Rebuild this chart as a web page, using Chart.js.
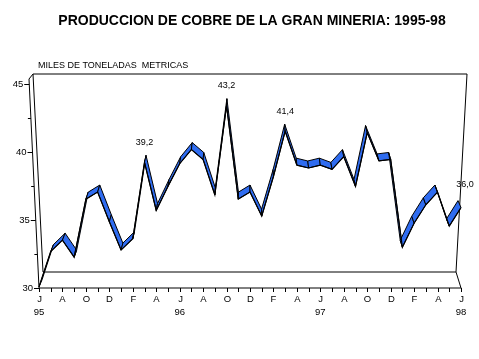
<!DOCTYPE html>
<html>
<head>
<meta charset="utf-8">
<script src="https://cdn.jsdelivr.net/npm/chart.js@4.4.0/dist/chart.umd.min.js"></script>
<style>
  body{margin:0;background:#fff;}
  canvas{display:block;}
</style>
</head>
<body>
<canvas id="chart" width="479" height="359"></canvas>
<script>
// ================== DATA ==================
// months Jun 1995 .. Jun 1998 (spanish initials)
const months = ["J","J","A","S","O","N","D","E","F","M","A","M",
                "J","J","A","S","O","N","D","E","F","M","A","M",
                "J","J","A","S","O","N","D","E","F","M","A","M","J"];
const yearIdx = [0, 12, 24, 36];
const yearText = ["95", "96", "97", "98"];

// miles de toneladas metricas
const production = [30.4, 32.9, 33.7, 32.5, 36.6, 37.1, 35.0, 33.0, 33.8, 39.2, 35.8, 37.5,
                    39.1, 40.1, 39.4, 36.9, 43.2, 36.6, 37.1, 35.4, 38.2, 41.4, 39.0, 38.8,
                    39.0, 38.7, 39.6, 37.5, 41.3, 39.3, 39.4, 33.2, 34.9, 36.2, 37.1, 34.7, 36.0];

// points with a value written above them
const labelIdx = [9, 16, 21, 36];

const yTicks = [30, 35, 40, 45];
const yMinor = [32.5, 37.5, 42.5];

const TITLE = "PRODUCCION DE COBRE DE LA GRAN MINERIA: 1995-98";
const UNITS = "MILES DE TONELADAS  METRICAS";
const FONT = "'Liberation Sans', Arial, sans-serif";

// ================== 3D FRAME + RIBBON ==================
function line(ctx, x1, y1, x2, y2){
  ctx.beginPath(); ctx.moveTo(x1, y1); ctx.lineTo(x2, y2); ctx.stroke();
}

const frame3d = {
  id: "frame3d",
  beforeDatasetsDraw(chart){
    const {ctx, chartArea: a, scales} = chart;
    ctx.save();
    ctx.strokeStyle = "#000";
    ctx.lineWidth = 1;

    // back wall + floor
    const bl = a.left + 4, br = a.right - 5, bb = a.bottom - 16, bt = a.top - 1;
    line(ctx, a.left - 6, bt, a.right + 6, bt);
    line(ctx, a.right + 6, bt, br, bb);
    line(ctx, bl, bb, br, bb);
    line(ctx, a.left - 6, bt, bl, bb);
    line(ctx, a.left - 10, a.top + 4, a.left - 6, bt);
    line(ctx, a.left - 10, a.top + 4, a.left, a.bottom);
    line(ctx, br, bb, a.right, a.bottom);
    line(ctx, a.left, a.bottom, a.right, a.bottom);

    // left axis ticks & labels (slanted front edge)
    const edgeX = y => (a.left - 10) + 10 * (y - (a.top + 4)) / (a.bottom - (a.top + 4));
    const yl = scales.yl;
    ctx.fillStyle = "#000";
    ctx.font = "9.5px " + FONT;
    ctx.textAlign = "right";
    ctx.textBaseline = "middle";
    yTicks.forEach(v => {
      const y = Math.round(yl.getPixelForValue(v)) + 0.5;
      const x = edgeX(y);
      line(ctx, x - 5, y, x, y);
      ctx.fillText(String(v), x - 6, y);
    });
    yMinor.forEach(v => {
      const y = Math.round(yl.getPixelForValue(v)) + 0.5;
      const x = edgeX(y);
      line(ctx, x - 3, y, x, y);
    });

    // x axis ticks & labels
    const xs = scales.x;
    ctx.textAlign = "center";
    months.forEach((m, i) => {
      const x = Math.round(xs.getPixelForValue(i)) + 0.5;
      line(ctx, x, a.bottom, x, a.bottom + 4);
      if(i % 2 === 0) ctx.fillText(m, x, a.bottom + 11);
    });
    yearIdx.forEach((i, k) => {
      ctx.fillText(yearText[k], xs.getPixelForValue(i), a.bottom + 24);
    });

    // ribbon: front edge = data, back edge shifted with depth
    const pts = chart.getDatasetMeta(0).data;
    const n = pts.length;
    const back = pts.map((p, i) => ({x: p.x + 3 - 6 * i / (n - 1), y: p.y - 7}));
    ctx.fillStyle = "#2f6cf0";
    ctx.lineJoin = "miter";
    for(let i = 0; i < n - 1; i++){
      ctx.beginPath();
      ctx.moveTo(pts[i].x, pts[i].y);
      ctx.lineTo(pts[i + 1].x, pts[i + 1].y);
      ctx.lineTo(back[i + 1].x, back[i + 1].y);
      ctx.lineTo(back[i].x, back[i].y);
      ctx.closePath();
      ctx.fill();
      ctx.stroke();
    }

    // titles
    ctx.fillStyle = "#000";
    ctx.textAlign = "center";
    ctx.font = "bold 14px " + FONT;
    ctx.fillText(TITLE, 252, 21);
    ctx.textAlign = "left";
    ctx.font = "9px " + FONT;
    ctx.fillText(UNITS, 38, 66);
    ctx.restore();
  },
  afterDatasetsDraw(chart){
    const {ctx} = chart;
    const pts = chart.getDatasetMeta(0).data;
    ctx.save();
    ctx.fillStyle = "#000";
    ctx.font = "9px " + FONT;
    ctx.textAlign = "center";
    ctx.textBaseline = "middle";
    labelIdx.forEach(i => {
      const txt = production[i].toFixed(1).replace(".", ",");
      ctx.fillText(txt, pts[i].x + (i === 36 ? 4 : 0), pts[i].y - (i === 36 ? 23 : 20));
    });
    ctx.restore();
  }
};

// ================== CHART ==================
const ctx = document.getElementById("chart").getContext("2d");
new Chart(ctx, {
  type: "line",
  data: {
    labels: months,
    datasets: [{
      data: production,
      yAxisID: "yv",
      borderColor: "#000",
      borderWidth: 1.2,
      pointRadius: 0,
      tension: 0,
      fill: false
    }]
  },
  options: {
    responsive: false,
    animation: false,
    layout: { padding: { left: 39, right: 18, top: 75, bottom: 71 } },
    plugins: { legend: { display: false }, tooltip: { enabled: false } },
    scales: {
      x: { display: false, offset: false },
      yv: { display: false, min: 30.32, max: 45.37 },
      yl: { display: false, min: 30, max: 45.66 }
    }
  },
  plugins: [frame3d]
});
</script>
</body>
</html>
